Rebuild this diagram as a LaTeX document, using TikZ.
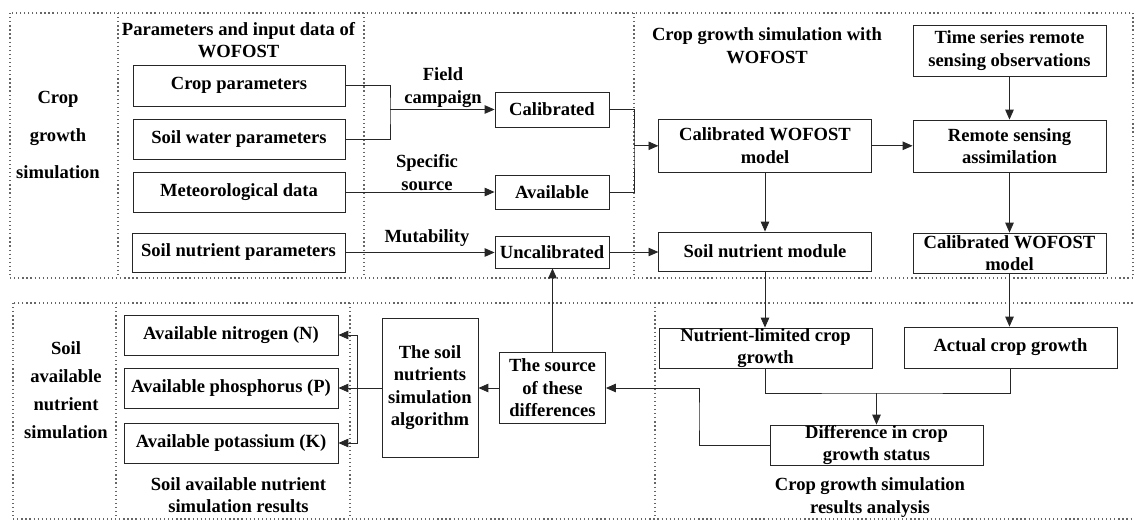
\documentclass[tikz,border=0pt]{standalone}
\usepackage{fontspec}
\setmainfont{Liberation Serif}
\usetikzlibrary{arrows.meta}

\tikzset{
  box/.style={draw=black!85, line width=0.6pt, inner sep=0pt, align=center,
              font=\fontsize{13.2}{16}\selectfont\bfseries},
  lbl/.style={inner sep=0pt, align=center, font=\fontsize{13.2}{16}\selectfont\bfseries},
  arr/.style={draw=black!85, line width=0.6pt, -{Triangle[length=7pt,width=6pt]}},
  ln/.style={draw=black!85, line width=0.6pt},
  frame/.style={draw=black!60, line width=0.9pt, dash pattern=on 0.9pt off 2pt}
}

\begin{document}
\begin{tikzpicture}[x=0.025cm,y=-0.025cm]
\useasboundingbox (0,0) rectangle (1134,521);
\clip (0,0) rectangle (1134,521);

\draw[frame] (10,13) rectangle (1133,278);
\draw[frame] (118,13) -- (118,278);
\draw[frame] (364,13) -- (364,278);
\draw[frame] (634,13) -- (634,278);
\draw[frame] (13,303) rectangle (1150,519);
\draw[frame] (116,303) -- (116,519);
\draw[frame] (350,303) -- (350,519);
\draw[frame] (655,303) -- (655,519);

\node[lbl, font=\fontsize{13.2}{26.7}\selectfont\bfseries] (lblcrop) at (58,135) {Crop\\growth\\simulation};
\node[lbl] (lblpar) at (238.5,40) {Parameters and input data of\\WOFOST};
\node[lbl] (lblsim) at (767,45.5) {Crop growth simulation with\\WOFOST};
\node[lbl, font=\fontsize{13.2}{19.9}\selectfont\bfseries] (lblsoil) at (66,390) {Soil\\available\\nutrient\\simulation};
\node[lbl] (lblres) at (238.5,495) {Soil available nutrient\\simulation results};
\node[lbl] (lblana) at (870,497.5) {Crop growth simulation\\results analysis};

\node[box, minimum width=5.3cm, minimum height=1.025cm] (cropp) at (239,85.5) {Crop parameters};
\node[box, minimum width=5.3cm, minimum height=1cm] (soilw) at (239,139) {Soil water parameters};
\node[box, minimum width=5.3cm, minimum height=1cm] (meteo) at (239,192) {Meteorological data};
\node[box, minimum width=5.325cm, minimum height=0.975cm] (soiln) at (238.5,252.5) {Soil nutrient parameters};

\node[box, minimum width=2.85cm, minimum height=0.875cm] (calib) at (552,109.5) {Calibrated};
\node[box, minimum width=2.85cm, minimum height=0.85cm] (avail) at (552,192) {Available};
\node[box, minimum width=2.85cm, minimum height=0.8cm] (uncal) at (552,252) {Uncalibrated};

\node[box, minimum width=5.31cm, minimum height=1.325cm] (cwofost) at (765,145.8) {Calibrated WOFOST\\model};
\node[box, minimum width=4.825cm, minimum height=1.275cm] (timeser) at (1009.5,50.5) {Time series remote\\sensing observations};
\node[box, minimum width=4.825cm, minimum height=1.3cm] (rsassim) at (1009.5,146) {Remote sensing\\assimilation};
\node[box, minimum width=5.31cm, minimum height=0.975cm] (nutmod) at (765,251.5) {Soil nutrient module};
\node[box, minimum width=4.825cm, minimum height=1cm] (cwofostb) at (1009.5,253) {Calibrated WOFOST\\model};

\node[box, minimum width=5.35cm, minimum height=1cm] (nitro) at (231,335) {Available nitrogen (N)};
\node[box, minimum width=5.35cm, minimum height=1cm] (phos) at (231,388) {Available phosphorus (P)};
\node[box, minimum width=5.35cm, minimum height=1cm] (potas) at (231,443) {Available potassium (K)};
\node[box, minimum width=2.4cm, minimum height=3.475cm] (algo) at (430,387.5) {The soil\\nutrients\\simulation\\algorithm};
\node[box, minimum width=2.65cm, minimum height=1.775cm] (source) at (552.5,388) {The source\\of these\\differences};

\node[box, minimum width=5.325cm, minimum height=1cm] (nutlim) at (765.5,348) {Nutrient-limited crop\\growth};
\node[box, minimum width=5.325cm, minimum height=1.025cm] (actual) at (1010.5,347.5) {Actual crop growth};
\node[box, minimum width=5.325cm, minimum height=1cm] (diff) at (876.5,445) {Difference in crop\\growth status};

\node[lbl] (lblfield) at (443,87.5) {Field\\campaign};
\node[lbl] (lblspec) at (427,172.5) {Specific\\source};
\node[lbl] (lblmut) at (427,238) {Mutability};

\coordinate (fcol) at (390,109.5);
\coordinate (mcol) at (634,145.8);
\coordinate (jn) at (876.5,393);
\coordinate (dcol) at (699,416);
\coordinate (brk) at (357,388);

\draw[ln] (cropp.east) -| (fcol) |- (soilw.east);
\draw[arr] (fcol) -- (calib.west);
\draw[arr] (meteo.east) -- (avail.west);
\draw[arr] (soiln.east) -- (soiln.east -| uncal.west);
\draw[ln] (calib.east) -| (mcol) |- (avail.east);
\draw[arr] (mcol) -- (cwofost.west);
\draw[arr] (uncal.east) -- (uncal.east -| nutmod.west);
\draw[arr] (cwofost.east) -- (cwofost.east -| rsassim.west);
\draw[arr] (timeser) -- (rsassim);
\draw[arr] (cwofost) -- (nutmod);
\draw[arr] (rsassim) -- (cwofostb);
\draw[arr] (nutmod.south) -- (nutmod.south |- nutlim.north);
\draw[arr] (cwofostb.south) -- (cwofostb.south |- actual.north);
\draw[ln] (nutlim.south) |- (jn) -| (actual.south);
\draw[arr] (jn) -- (diff.north);
\draw[arr] (diff.west) -| (dcol) |- (source.east);
\draw[arr] (source.north) -- (source.north |- uncal.south);
\draw[arr] (source.west) -- (source.west -| algo.east);
\draw[arr] (algo.west |- phos.east) -- (phos.east);
\draw[arr] (brk) |- (nitro.east);
\draw[arr] (brk) |- (potas.east);
\end{tikzpicture}
\end{document}
